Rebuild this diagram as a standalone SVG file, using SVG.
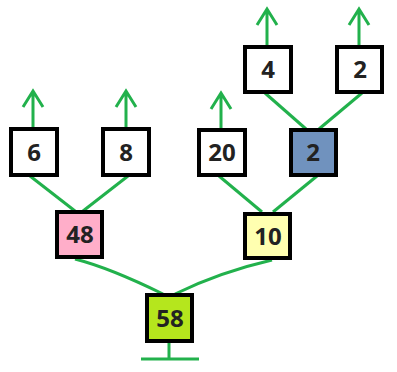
<svg xmlns="http://www.w3.org/2000/svg" width="397" height="372" viewBox="0 0 397 372">
<style>
.c{stroke:#22b14c;stroke-width:3;fill:none;stroke-linecap:butt}
.b{stroke:#000;stroke-width:4}
.t{font-family:"Open Sans","Noto Sans",sans-serif;font-weight:bold;font-size:24px;fill:#222;text-anchor:middle}
</style>
<rect width="397" height="372" fill="#fff"/>
<g id="connectors" class="c">
<path d="M75,259 Q110,268 163,294"/>
<path d="M272,260 Q220,272 175,294"/>
<path d="M30,176 L75,211"/>
<path d="M128,176 L83,211"/>
<path d="M219,176 L262,212"/>
<path d="M317,176 L273,212"/>
<path d="M265,93 L306,129"/>
<path d="M362,93 L319,129"/>
<path d="M169,342 L169,359 M141,359 L199,359"/>
<path d="M33,128 L33,91 M23,107 L33,91 L43,107"/>
<path d="M126,128 L126,91 M116,107 L126,91 L136,107"/>
<path d="M221,128 L221,93 M211,109 L221,93 L231,109"/>
<path d="M267,46 L267,9 M257,25 L267,9 L277,25"/>
<path d="M359,46 L359,9 M349,25 L359,9 L369,25"/>
</g>
<g id="n6"><rect class="b" x="11" y="129" width="46" height="46" fill="#fff"/><text class="t" x="34" y="161">6</text></g>
<g id="n8"><rect class="b" x="103" y="129" width="46" height="46" fill="#fff"/><text class="t" x="126" y="161">8</text></g>
<g id="n20"><rect class="b" x="199" y="130" width="46" height="45" fill="#fff"/><text class="t" x="222" y="161">20</text></g>
<g id="n2b"><rect class="b" x="291" y="130" width="45" height="45" fill="#7092be"/><text class="t" x="313" y="161">2</text></g>
<g id="n4"><rect class="b" x="245" y="47" width="46" height="45" fill="#fff"/><text class="t" x="268" y="78">4</text></g>
<g id="n2t"><rect class="b" x="337" y="47" width="45" height="45" fill="#fff"/><text class="t" x="360" y="78">2</text></g>
<g id="n48"><rect class="b" x="57" y="212" width="45" height="45" fill="#ffaec9"/><text class="t" x="80" y="243">48</text></g>
<g id="n10"><rect class="b" x="245" y="214" width="45" height="44" fill="#ffffb0"/><text class="t" x="268" y="245">10</text></g>
<g id="n58"><rect class="b" x="147" y="295" width="45" height="46" fill="#b5e61d"/><text class="t" x="170" y="327">58</text></g>
</svg>
